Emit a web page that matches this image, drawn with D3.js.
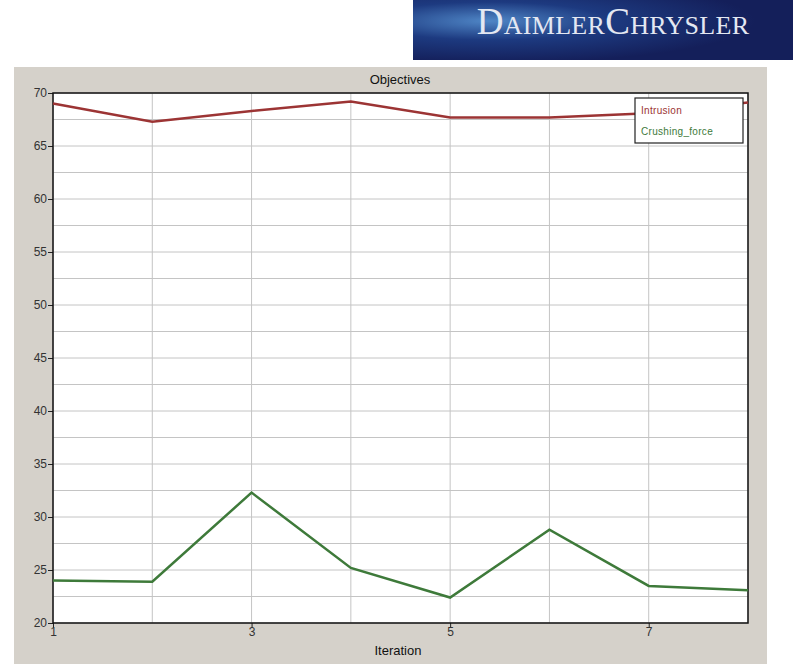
<!DOCTYPE html>
<html>
<head>
<meta charset="utf-8">
<script src="https://cdn.jsdelivr.net/npm/d3@7"></script>
<style>
  body { margin: 0; background: #fff; }
</style>
</head>
<body>
<div id="chart"></div>
<script>
// data
const iterations = [1, 2, 3, 4, 5, 6, 7, 8]
const intrusion = [69.0, 67.3, 68.3, 69.2, 67.7, 67.7, 68.1, 69.1]
const crushingForce = [24.0, 23.9, 32.3, 25.2, 22.4, 28.8, 23.5, 23.1]
const yTicks = [20, 25, 30, 35, 40, 45, 50, 55, 60, 65, 70]
const xTicks = [1, 3, 5, 7]
const seriesNames = ["Intrusion", "Crushing_force"]
const seriesColors = ["#9c3434", "#3e7a3a"]

const W = 793, H = 670
const svg = d3.select("#chart").append("svg")
  .attr("width", W).attr("height", H)

// logo banner
const defs = svg.append("defs")
const grad = defs.append("radialGradient").attr("id", "logo-glow")
  .attr("cx", "0.2").attr("cy", "0.35").attr("r", "0.7")
grad.append("stop").attr("offset", "0%").attr("stop-color", "#4f86c6")
grad.append("stop").attr("offset", "45%").attr("stop-color", "#1d3a80")
grad.append("stop").attr("offset", "100%").attr("stop-color", "#141f5a")
svg.append("rect")
  .attr("x", 413).attr("y", 0).attr("width", 380).attr("height", 60)
  .attr("fill", "url(#logo-glow)")
svg.append("text")
  .attr("x", 613).attr("y", 34)
  .attr("text-anchor", "middle")
  .attr("font-family", "Liberation Serif, DejaVu Serif, serif")
  .attr("font-size", 37)
  .attr("font-variant", "small-caps")
  .attr("letter-spacing", 0.3)
  .attr("fill", "#e4e8f2")
  .text("DaimlerChrysler")

// grey chart panel
svg.append("rect")
  .attr("x", 14).attr("y", 67).attr("width", 753).attr("height", 597)
  .attr("fill", "#d5d1ca")

const margin = { left: 53, top: 93, right: 748, bottom: 623 }

const x = d3.scaleLinear().domain([1, 8]).range([margin.left, margin.right])
const y = d3.scaleLinear().domain([20, 70]).range([margin.bottom, margin.top])

svg.append("rect")
  .attr("x", margin.left).attr("y", margin.top)
  .attr("width", margin.right - margin.left).attr("height", margin.bottom - margin.top)
  .attr("fill", "#fff")

// grid lines
const hGrid = d3.range(20, 70.1, 2.5)
svg.append("g").selectAll("line").data(hGrid).join("line")
  .attr("x1", margin.left).attr("x2", margin.right)
  .attr("y1", d => y(d)).attr("y2", d => y(d))
  .attr("stroke", "#c4c4c4").attr("stroke-width", 1)
svg.append("g").selectAll("line").data(iterations).join("line")
  .attr("x1", d => x(d)).attr("x2", d => x(d))
  .attr("y1", margin.top).attr("y2", margin.bottom)
  .attr("stroke", "#c4c4c4").attr("stroke-width", 1)

// axes
const yAxis = svg.append("g")
  .attr("transform", `translate(${margin.left},0)`)
  .call(d3.axisLeft(y).tickValues(yTicks).tickSize(5).tickPadding(1).tickFormat(d3.format("d")))
const xAxis = svg.append("g")
  .attr("transform", `translate(0,${margin.bottom})`)
  .call(d3.axisBottom(x).tickValues(xTicks).tickSize(5).tickPadding(-1).tickFormat(d3.format("d")))
;[yAxis, xAxis].forEach(g => {
  g.select(".domain").remove()
  g.selectAll("text")
    .attr("font-family", "Liberation Sans, Arial, sans-serif")
    .attr("font-size", 12).attr("fill", "#333")
  g.selectAll("line").attr("stroke", "#222")
})

// plot border
svg.append("rect")
  .attr("x", margin.left).attr("y", margin.top)
  .attr("width", margin.right - margin.left).attr("height", margin.bottom - margin.top)
  .attr("fill", "none").attr("stroke", "#111").attr("stroke-width", 1.5)

// series lines
const line = d3.line()
  .x((d, i) => x(iterations[i]))
  .y(d => y(d))
;[intrusion, crushingForce].forEach((vals, k) => {
  svg.append("path")
    .datum(vals)
    .attr("fill", "none")
    .attr("stroke", seriesColors[k])
    .attr("stroke-width", 2.5)
    .attr("d", line)
})

// legend
const legend = svg.append("g").attr("transform", "translate(635,98)")
legend.append("rect")
  .attr("width", 108).attr("height", 45)
  .attr("fill", "#fff").attr("stroke", "#222").attr("stroke-width", 1.2)
seriesNames.forEach((name, i) => {
  legend.append("text")
    .attr("x", 6).attr("y", 16 + i * 21)
    .attr("font-family", "Liberation Sans, Arial, sans-serif")
    .attr("font-size", 10)
    .attr("letter-spacing", 0.3)
    .attr("fill", seriesColors[i])
    .text(name)
})

// titles
svg.append("text")
  .attr("x", 400).attr("y", 84)
  .attr("text-anchor", "middle")
  .attr("font-family", "Liberation Sans, Arial, sans-serif")
  .attr("font-size", 13).attr("fill", "#111")
  .text("Objectives")
svg.append("text")
  .attr("x", 398).attr("y", 655)
  .attr("text-anchor", "middle")
  .attr("font-family", "Liberation Sans, Arial, sans-serif")
  .attr("font-size", 13).attr("fill", "#111")
  .text("Iteration")
</script>
</body>
</html>
